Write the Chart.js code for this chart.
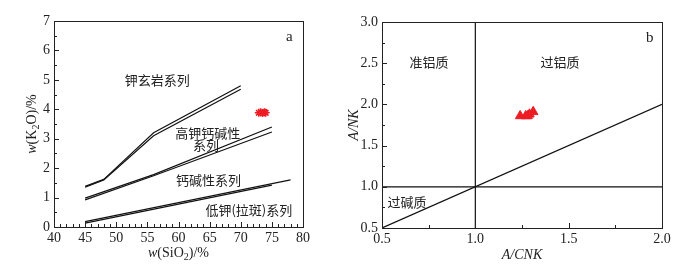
<!DOCTYPE html>
<html>
<head>
<meta charset="utf-8">
<script src="https://cdn.jsdelivr.net/npm/chart.js@4"></script>
<style>
    body { margin: 0; background: #fff; width: 688px; height: 270px; position: relative; overflow: hidden; }
    canvas { position: absolute; top: 0; }
    #chartA { left: 0; }
    #chartB { left: 344px; }
</style>
</head>
<body>
<canvas id="chartA" width="344" height="270"></canvas>
<canvas id="chartB" width="344" height="270"></canvas>
<script>
//..panel a: K2O vs SiO2 boundaries (double lines)
const shoX = [45, 48, 56, 70];
const shoYa = [1.35, 1.6, 3.1, 4.68];
const shoYb = [1.38, 1.62, 3.2, 4.8];
const hkX = [45, 56, 75];
const hkYa = [0.98, 1.78, 3.4];
const hkYb = [0.92, 1.74, 3.23];
const lowXa = [45, 78];
const lowYa = [0.18, 1.6];
const lowXb = [45, 75];
const lowYb = [0.13, 1.42];
const sampleSiO2 = [72.9, 73.2, 73.5, 73.8, 74.0];
const sampleK2O = [3.88, 3.9, 3.87, 3.9, 3.88];

//..panel b: A/NK vs A/CNK
const vertX = [1.0, 1.0];
const vertY = [0.5, 3.0];
const horizX = [0.5, 2.0];
const horizY = [1.0, 1.0];
const diagX = [0.5, 2.0];
const diagY = [0.5, 2.0];
const sampleACNK = [1.24, 1.27, 1.28, 1.29, 1.31];
const sampleANK = [1.86, 1.86, 1.86, 1.88, 1.91];

//..region names
const fieldsA = [
    { text: '钾玄岩系列', x: 56.6, y: 5.0 },
    { text: '高钾钙碱性', x: 64.7, y: 3.2 },
    { text: '系列', x: 64.4, y: 2.77 },
    { text: '钙碱性系列', x: 64.8, y: 1.59 },
    { text: '低钾(拉斑)系列', x: 71.3, y: 0.57 }
];
const fieldsB = [
    { text: '准铝质', x: 0.752, y: 2.51 },
    { text: '过铝质', x: 1.453, y: 2.51 },
    { text: '过碱质', x: 0.634, y: 0.815 }
];

const ink = '#222';
const serif = '"Liberation Serif", "Times New Roman", serif';
const red = 'rgb(237,28,36)';

const pts = (xs, ys) => xs.map((x, i) => ({ x, y: ys[i] }));
const line = (xs, ys) => ({
    data: pts(xs, ys),
    showLine: true,
    borderColor: '#111',
    borderWidth: 1.2,
    pointRadius: 0,
    fill: false
});

//..rich text for axis titles (italic / subscript parts)
function drawRich(ctx, segs, cx, cy, size, rotate) {
    const font = s => `${s.it ? 'italic ' : ''}${s.sub ? Math.round(size * 0.68) : size}px ${serif}`;
    let w = 0;
    segs.forEach(s => { ctx.font = font(s); w += ctx.measureText(s.t).width; });
    ctx.save();
    ctx.translate(cx, cy);
    if (rotate) ctx.rotate(-Math.PI / 2);
    ctx.fillStyle = ink;
    ctx.textAlign = 'left';
    ctx.textBaseline = 'middle';
    let xx = -w / 2;
    segs.forEach(s => {
        ctx.font = font(s);
        ctx.fillText(s.t, xx, s.sub ? size * 0.3 : 0);
        xx += ctx.measureText(s.t).width;
    });
    ctx.restore();
}

//..frame, inward ticks, field names, titles
const decoPlugin = {
    id: 'deco',
    afterDraw(chart, args, o) {
        const { ctx, chartArea: a, scales: { x, y } } = chart;
        ctx.save();
        ctx.strokeStyle = ink;
        ctx.lineWidth = 1;
        ctx.strokeRect(Math.round(a.left) + 0.5, Math.round(a.top) + 0.5,
            Math.round(a.right - a.left), Math.round(a.bottom - a.top));
        ctx.beginPath();
        for (let v = x.min; v <= x.max + 1e-9; v += o.xMinor) {
            const px = Math.round(x.getPixelForValue(v)) + 0.5;
            const major = Math.abs(v / o.xMajor - Math.round(v / o.xMajor)) < 1e-6;
            ctx.moveTo(px, a.bottom);
            ctx.lineTo(px, a.bottom - (major ? 5 : 3));
        }
        for (let v = y.min; v <= y.max + 1e-9; v += o.yMinor) {
            const py = Math.round(y.getPixelForValue(v)) + 0.5;
            const major = Math.abs(v / o.yMajor - Math.round(v / o.yMajor)) < 1e-6;
            ctx.moveTo(a.left, py);
            ctx.lineTo(a.left + (major ? 5 : 3), py);
        }
        ctx.stroke();

        ctx.fillStyle = ink;
        ctx.textAlign = 'center';
        ctx.textBaseline = 'middle';
        ctx.font = '13px "Noto Sans CJK SC"';
        o.fields.forEach(f => ctx.fillText(f.text, x.getPixelForValue(f.x), y.getPixelForValue(f.y)));
        ctx.font = '15px ' + serif;
        ctx.fillText(o.tag.text, x.getPixelForValue(o.tag.x), y.getPixelForValue(o.tag.y));

        drawRich(ctx, o.xTitle, (a.left + a.right) / 2, o.xTitleY, 14, false);
        drawRich(ctx, o.yTitle, o.yTitleX, (a.top + a.bottom) / 2, 14, true);
        ctx.restore();
    }
};

function axes(xMin, xMax, xStep, yMin, yMax, yStep, yWidth, xHeight, fmt) {
    const tickFont = { family: serif, size: 14 };
    return {
        x: {
            type: 'linear', min: xMin, max: xMax,
            grid: { display: false, drawTicks: false },
            border: { display: false },
            ticks: { stepSize: xStep, font: tickFont, color: ink, padding: 3, maxRotation: 0, callback: fmt },
            afterFit: s => { s.height = xHeight; }
        },
        y: {
            type: 'linear', min: yMin, max: yMax,
            grid: { display: false, drawTicks: false },
            border: { display: false },
            ticks: { stepSize: yStep, font: tickFont, color: ink, padding: 4, callback: fmt },
            afterFit: s => { s.width = yWidth; }
        }
    };
}

new Chart(document.getElementById('chartA'), {
    type: 'scatter',
    data: {
        datasets: [
            line(shoX, shoYa), line(shoX, shoYb),
            line(hkX, hkYa), line(hkX, hkYb),
            line(lowXa, lowYa), line(lowXb, lowYb),
            {
                data: pts(sampleSiO2, sampleK2O),
                pointStyle: 'star',
                pointRadius: 4,
                borderColor: red,
                backgroundColor: red,
                borderWidth: 1.5
            }
        ]
    },
    options: {
        responsive: false,
        animation: false,
        layout: { padding: { top: 21, right: 41, left: 0, bottom: 0 } },
        plugins: {
            legend: { display: false },
            tooltip: { enabled: false },
            deco: {
                xMinor: 1, xMajor: 5, yMinor: 0.5, yMajor: 1,
                fields: fieldsA,
                tag: { text: 'a', x: 77.8, y: 6.47 },
                xTitle: [{ t: 'w', it: true }, { t: '(SiO' }, { t: '2', sub: true }, { t: ')/%' }],
                xTitleY: 253,
                yTitle: [{ t: 'w', it: true }, { t: '(K' }, { t: '2', sub: true }, { t: 'O)/%' }],
                yTitleX: 32
            }
        },
        scales: axes(40, 80, 5, 0, 7, 1, 54, 43, v => v)
    },
    plugins: [decoPlugin]
});

new Chart(document.getElementById('chartB'), {
    type: 'scatter',
    data: {
        datasets: [
            line(vertX, vertY), line(horizX, horizY), line(diagX, diagY),
            {
                data: pts(sampleACNK, sampleANK),
                pointStyle: 'triangle',
                pointRadius: 5.5,
                borderColor: red,
                backgroundColor: red,
                borderWidth: 1
            }
        ]
    },
    options: {
        responsive: false,
        animation: false,
        layout: { padding: { top: 22, right: 26, left: 0, bottom: 0 } },
        plugins: {
            legend: { display: false },
            tooltip: { enabled: false },
            deco: {
                xMinor: 0.25, xMajor: 0.5, yMinor: 0.25, yMajor: 0.5,
                fields: fieldsB,
                tag: { text: 'b', x: 1.935, y: 2.81 },
                xTitle: [{ t: 'A/CNK', it: true }],
                xTitleY: 255,
                yTitle: [{ t: 'A/NK', it: true }],
                yTitleX: 10
            }
        },
        scales: axes(0.5, 2.0, 0.5, 0.5, 3.0, 0.5, 38, 42, v => Number(v).toFixed(1))
    },
    plugins: [decoPlugin]
});
</script>
</body>
</html>
